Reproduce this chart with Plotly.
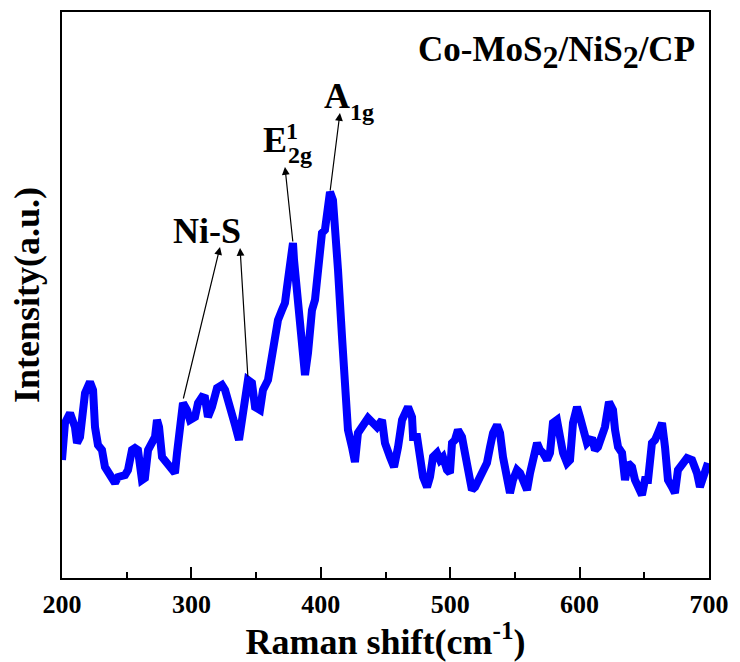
import plotly.graph_objects as go

# Raman spectrum of Co-MoS2/NiS2/CP
shift = [
    200.0, 202.3, 206.2, 210.0, 211.6, 213.9, 217.8, 221.6, 224.0, 225.5,
    227.8, 230.9, 233.2, 235.5, 238.6, 241.0, 243.3, 246.4, 248.7, 251.0,
    254.1, 256.4, 258.7, 261.8, 264.1, 266.5, 269.6, 271.9, 273.4, 275.0,
    277.3, 281.1, 285.0, 287.3, 288.9, 291.2, 293.5, 296.6, 298.9, 302.8,
    305.1, 308.2, 310.5, 312.8, 315.9, 319.8, 323.6, 326.0, 328.3, 331.4,
    333.7, 336.8, 339.9, 343.7, 346.8, 349.2, 353.0, 355.3, 359.2, 362.3,
    364.6, 366.9, 370.0, 372.3, 373.9, 376.2, 378.5, 379.3, 381.6, 383.9,
    386.2, 387.8, 390.1, 393.2, 395.5, 397.8, 400.9, 403.2, 404.8, 407.1,
    409.4, 411.7, 413.3, 416.4, 418.7, 421.0, 424.1, 426.4, 428.7, 432.6,
    436.5, 440.3, 443.4, 447.3, 449.6, 453.5, 456.6, 459.7, 462.8, 467.4,
    470.5, 471.3, 474.4, 476.7, 479.0, 482.1, 484.4, 486.7, 489.8, 492.1,
    494.4, 497.5, 499.8, 501.4, 503.7, 506.0, 509.1, 511.4, 513.8, 516.8,
    519.2, 521.5, 524.6, 528.4, 530.8, 533.1, 536.2, 538.5, 540.8, 543.9,
    546.2, 548.5, 551.6, 554.0, 556.3, 559.4, 561.7, 564.0, 567.1, 569.4,
    571.7, 574.8, 577.1, 579.4, 582.5, 584.9, 587.2, 590.3, 592.6, 594.9,
    598.0, 600.3, 602.6, 605.7, 609.6, 611.9, 614.2, 617.3, 619.6, 622.7,
    625.8, 627.4, 629.7, 632.8, 635.1, 637.4, 640.5, 642.8, 645.1, 648.2,
    650.5, 652.9, 655.9, 658.3, 660.6, 663.7, 666.0, 668.3, 671.4, 673.7,
    676.0, 679.1, 683.0, 686.9, 690.7, 693.0, 695.4, 699.2,
]
intensity = [
    118, 155, 165, 151, 135, 141, 185, 196, 188, 151,
    133, 128, 111, 105, 98, 95, 101, 103, 103, 108,
    128, 130, 128, 98, 100, 128, 135, 141, 158, 151,
    121, 115, 111, 105, 125, 155, 175, 168, 158, 161,
    175, 181, 180, 161, 171, 190, 193, 188, 175, 161,
    153, 138, 165, 198, 195, 171, 168, 188, 198, 225,
    235, 258, 268, 275, 291, 311, 335, 318, 281, 258,
    228, 203, 225, 268, 278, 308, 345, 348, 365, 386,
    378, 348, 308, 241, 195, 148, 131, 116, 145, 151,
    160, 155, 151, 158, 135, 121, 111, 131, 158, 171,
    161, 141, 141, 121, 101, 91, 101, 121, 125, 118,
    121, 108, 105, 135, 138, 148, 141, 125, 105, 88,
    91, 98, 108, 115, 131, 145, 153, 145, 121, 95,
    85, 98, 108, 105, 98, 88, 105, 121, 135, 128,
    125, 118, 125, 155, 158, 141, 125, 115, 118, 155,
    171, 161, 148, 135, 140, 128, 131, 146, 151, 176,
    168, 148, 131, 125, 98, 115, 111, 98, 91, 83,
    98, 98, 135, 138, 145, 155, 131, 98, 91, 85,
    108, 115, 120, 118, 105, 91, 101, 115,
]

x_ticks = [200, 300, 400, 500, 600, 700]

# Peak assignments: (tail on the peak) -> (arrow head near the label)
arrow_tail_x = [293.5, 343.7, 378.5, 407.1]
arrow_tail_y = [178, 200, 335, 386]
arrow_head_x = [322.1, 337.6, 372.3, 414.8]
arrow_head_y = [331, 330, 411, 465]

FONT = "Liberation Serif, Times New Roman, serif"

fig = go.Figure()
fig.add_trace(go.Scatter(
    x=shift, y=intensity, mode="lines",
    line=dict(color="#0000FF", width=8),
    showlegend=False, hoverinfo="skip",
))

for tx, ty, hx, hy in zip(arrow_tail_x, arrow_tail_y, arrow_head_x, arrow_head_y):
    fig.add_annotation(
        x=hx, y=hy, ax=tx, ay=ty, xref="x", yref="y", axref="x", ayref="y",
        text="", showarrow=True, arrowhead=2, arrowsize=1.3, arrowwidth=1.2,
        arrowcolor="black", standoff=0, startstandoff=0,
    )

def label(text, x, y, size):
    fig.add_annotation(
        x=x, y=y, xref="x", yref="y", text=text, showarrow=False,
        font=dict(family=FONT, size=size, color="black", weight="bold"),
        xanchor="center", yanchor="middle",
    )

label("Ni-S", 312.1, 347, 36)
label("E", 364.6, 438, 36)
label("1", 378.0, 447, 24)
label("2g", 384.0, 423, 24)
label("A", 412.5, 482, 36)
label("1g", 431.8, 466, 24)

sub2 = '<sub><span style="font-size:32px">2</span></sub>'
fig.add_annotation(
    x=0.765, y=0.929, xref="paper", yref="paper",
    text=f"Co-MoS{sub2}/NiS{sub2}/CP", showarrow=False,
    font=dict(family=FONT, size=35, color="black", weight="bold"),
    xanchor="center", yanchor="middle",
)

fig.update_xaxes(
    range=[200, 700], tickvals=x_ticks, ticktext=[str(v) for v in x_ticks],
    ticks="inside", ticklen=11, tickwidth=2, tickcolor="black",
    minor=dict(ticks="inside", dtick=50, tick0=200, ticklen=6, tickwidth=2, tickcolor="black"),
    showline=True, linewidth=2, linecolor="black", mirror=True,
    showgrid=False, zeroline=False,
    tickfont=dict(family=FONT, size=26, color="black", weight="bold"),
    ticklabelstandoff=2,
    title=dict(text="Raman shift(cm<sup>-1</sup>)", standoff=8,
               font=dict(family=FONT, size=36, color="black", weight="bold")),
)
fig.update_yaxes(
    range=[0, 566], showticklabels=False, ticks="",
    showline=True, linewidth=2, linecolor="black", mirror=True,
    showgrid=False, zeroline=False,
    title=dict(text="Intensity(a.u.)", standoff=9,
               font=dict(family=FONT, size=36, color="black", weight="bold")),
)

fig.update_layout(
    width=740, height=662,
    margin=dict(l=62, r=31, t=12, b=84, autoexpand=False),
    plot_bgcolor="white", paper_bgcolor="white",
)

fig.write_html("out.html")
